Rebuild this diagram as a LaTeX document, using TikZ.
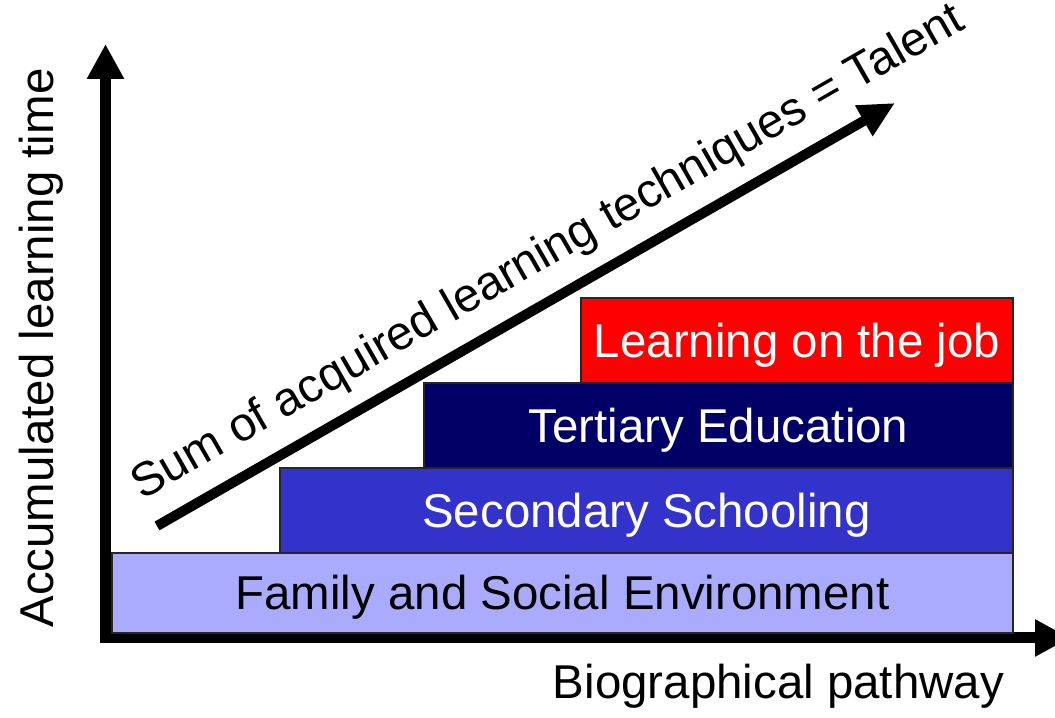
\documentclass[tikz,border=0pt]{standalone}
\usepackage{fontspec}
\setmainfont{Liberation Sans}
\usepackage{xcolor}
\usepackage{tikz}
\usetikzlibrary{positioning,calc,arrows.meta}

\definecolor{familyblue}{HTML}{AAAAFF}
\definecolor{schoolblue}{HTML}{3333CC}
\definecolor{tertiaryblue}{HTML}{000066}
\definecolor{jobred}{HTML}{FF0000}

\begin{document}
\begin{tikzpicture}[font=\fontsize{27pt}{32pt}\selectfont,
    stage/.style={draw=black!85, line width=0.8pt, rectangle, outer sep=0pt,
        minimum height=1.7cm, text height=0.68cm, text depth=0pt},
    axis/.style={line width=0.22cm, line join=miter,
        {Triangle[width=0.7cm,length=0.7cm]}-{Triangle[width=0.7cm,length=0.7cm]}},
    talent/.style={line width=0.2cm, -{Triangle[width=0.66cm,length=0.72cm]}}]
    \useasboundingbox (0,0) rectangle (21.1,14.36);

    % axes
    \coordinate (ytip) at (2.11,13.48);
    \coordinate (origin) at (2.11,1.6);
    \coordinate (xtip) at (21.4,1.6);
    \draw[axis] (ytip) -- (origin) -- (xtip);

    % stacked stages
    \node (family) [stage, fill=familyblue, minimum width=18.02cm, minimum height=1.6cm, anchor=south east] at (20.26,1.7) {Family and Social Environment};
    \node (school) [stage, fill=schoolblue, text=white, minimum width=14.66cm, above left=0cm and 0cm of family.north east] {Secondary Schooling};
    \node (tertiary) [stage, fill=tertiaryblue, text=white, minimum width=11.78cm, above left=0cm and 0cm of school.north east] {Tertiary Education};
    \node (job) [stage, fill=jobred, text=white, minimum width=8.64cm, above left=0cm and 0cm of tertiary.north east] {Learning on the job};

    % talent arrow
    \coordinate (tstart) at (3.14,3.84);
    \coordinate (tend) at (17.9,12.3);
    \draw[talent] (tstart) -- (tend);
    \node (sum) [rotate=29.82, anchor=base] at (11.09,9.08) {Sum of acquired learning techniques = Talent};

    % axis labels
    \node (ylabel) [rotate=90, anchor=base] at (1.06,7.4) {Accumulated learning time};
    \node (xlabel) [anchor=base] at (15.57,0.38) {Biographical pathway};
\end{tikzpicture}
\end{document}
